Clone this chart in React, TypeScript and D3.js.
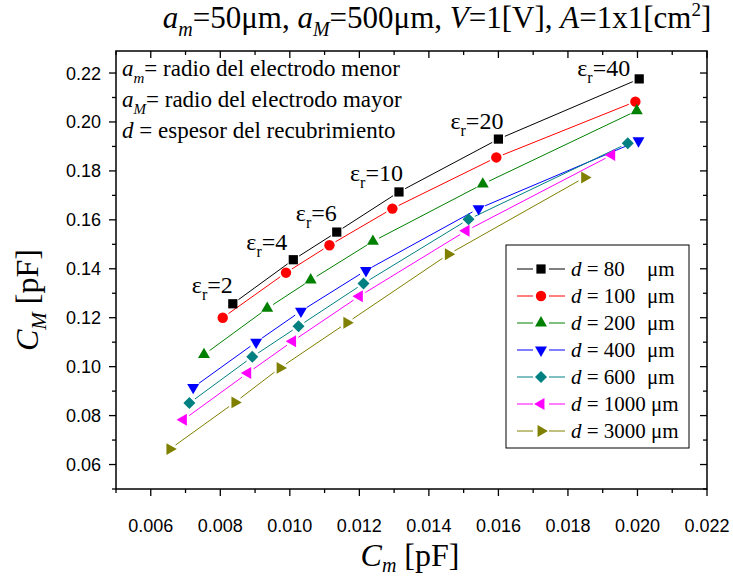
import React from 'react';
import * as d3 from 'd3';

// ---------- data ----------
const epsilons = [2, 4, 6, 10, 20, 40];
const thicknessLabels = ['80', '100', '200', '400', '600', '1000', '3000'];

const cmD80 = [0.00836, 0.0101, 0.01135, 0.01314, 0.016, 0.02005];
const CMD80 = [0.1257, 0.1437, 0.155, 0.1714, 0.193, 0.2176];
const cmD100 = [0.00807, 0.00989, 0.01114, 0.01295, 0.01594, 0.01994];
const CMD100 = [0.12, 0.1384, 0.1496, 0.1646, 0.1855, 0.2083];
const cmD200 = [0.00753, 0.00935, 0.0106, 0.01239, 0.01555, 0.01998];
const CMD200 = [0.1049, 0.1238, 0.1354, 0.1512, 0.1746, 0.2046];
const cmD400 = [0.00722, 0.00903, 0.01032, 0.01219, 0.01543, 0.02003];
const CMD400 = [0.0915, 0.11, 0.1227, 0.1393, 0.1646, 0.1923];
const cmD600 = [0.00711, 0.00892, 0.01025, 0.01212, 0.01514, 0.01972];
const CMD600 = [0.0851, 0.104, 0.1165, 0.134, 0.1602, 0.1913];
const cmD1000 = [0.00694, 0.00879, 0.01008, 0.012, 0.01507, 0.01926];
const CMD1000 = [0.0783, 0.0974, 0.1104, 0.1288, 0.1555, 0.1865];
const cmD3000 = [0.00655, 0.00842, 0.00972, 0.01164, 0.01456, 0.01848];
const CMD3000 = [0.0663, 0.0854, 0.0995, 0.1179, 0.1459, 0.1773];

const xMajorTicks = [0.006, 0.008, 0.01, 0.012, 0.014, 0.016, 0.018, 0.02, 0.022];
const yMajorTicks = [0.06, 0.08, 0.1, 0.12, 0.14, 0.16, 0.18, 0.2, 0.22];

// ---------- styling ----------
const colors = ['#000000', '#FF0000', '#008000', '#0000FF', '#008080', '#FF00FF', '#808000'];
const shapes = ['square', 'circle', 'triUp', 'triDown', 'diamond', 'triLeft', 'triRight'];
const serif = '"Liberation Serif", "Times New Roman", serif';
const sans = '"Liberation Sans", Arial, sans-serif';

const W = 733;
const H = 579;
const L = 116, R = 707, T = 51, B = 489;

const x = d3.scaleLinear().domain([0.005, 0.022]).range([L, R]);
const y = d3.scaleLinear().domain([0.05, 0.229]).range([B, T]);

const seriesX = [cmD80, cmD100, cmD200, cmD400, cmD600, cmD1000, cmD3000];
const seriesY = [CMD80, CMD100, CMD200, CMD400, CMD600, CMD1000, CMD3000];

function markerPath(shape: string): { d: string; rot: number } {
  switch (shape) {
    case 'square':
      return { d: d3.symbol().type(d3.symbolSquare).size(85)() as string, rot: 0 };
    case 'circle':
      return { d: d3.symbol().type(d3.symbolCircle).size(85)() as string, rot: 0 };
    case 'triUp':
      return { d: d3.symbol().type(d3.symbolTriangle).size(62)() as string, rot: 0 };
    case 'triDown':
      return { d: d3.symbol().type(d3.symbolTriangle).size(62)() as string, rot: 180 };
    case 'triLeft':
      return { d: d3.symbol().type(d3.symbolTriangle).size(62)() as string, rot: -90 };
    case 'triRight':
      return { d: d3.symbol().type(d3.symbolTriangle).size(62)() as string, rot: 90 };
    case 'diamond':
      return { d: d3.symbol().type(d3.symbolSquare).size(72)() as string, rot: 45 };
  }
  return { d: '', rot: 0 };
}

function Marker({ shape, cx, cy, color }: { shape: string; cx: number; cy: number; color: string }) {
  const m = markerPath(shape);
  return <path d={m.d} transform={`translate(${cx},${cy}) rotate(${m.rot})`} fill={color} />;
}

function gapSegments(pts: [number, number][], gap: number) {
  const segs: [number, number, number, number][] = [];
  for (let i = 0; i < pts.length - 1; i++) {
    const [x1, y1] = pts[i];
    const [x2, y2] = pts[i + 1];
    const dx = x2 - x1, dy = y2 - y1;
    const len = Math.hypot(dx, dy);
    if (len <= 2 * gap) continue;
    const ux = dx / len, uy = dy / len;
    segs.push([x1 + ux * gap, y1 + uy * gap, x2 - ux * gap, y2 - uy * gap]);
  }
  return segs;
}

// annotation offsets for the epsilon labels (relative to the d=80 points)
const epsOffsets: [number, number][] = [[0, -11], [-6, -10], [0, -11], [4, -11], [5, -10], [-9, -3]];

export default function App() {
  const xMinor = d3.range(0.005, 0.0221, 0.001);
  const yMinor = d3.range(0.05, 0.2291, 0.01);
  const isMajorX = (v: number) => xMajorTicks.some((t) => Math.abs(t - v) < 1e-6);
  const isMajorY = (v: number) => yMajorTicks.some((t) => Math.abs(t - v) < 1e-6);

  const legendX = 506, legendY = 245, legendW = 183, legendH = 203;
  const rowH = 27;

  return (
    <svg width={W} height={H} style={{ position: 'absolute', left: 0, top: 0, background: '#fff' }}>
      <rect x={0} y={0} width={W} height={H} fill="#fff" />

      {/* title */}
      <text x={437} y={28} fontFamily={serif} fontSize={31} textAnchor="middle" fill="#000">
        <tspan fontStyle="italic">a</tspan>
        <tspan fontStyle="italic" fontSize={20} dy={8}>m</tspan>
        <tspan dy={-8}>=50μm, </tspan>
        <tspan fontStyle="italic">a</tspan>
        <tspan fontStyle="italic" fontSize={20} dy={8}>M</tspan>
        <tspan dy={-8}>=500μm, </tspan>
        <tspan fontStyle="italic">V</tspan>
        <tspan>=1[V], </tspan>
        <tspan fontStyle="italic">A</tspan>
        <tspan>=1x1[cm</tspan>
        <tspan fontSize={19} dy={-12}>2</tspan>
        <tspan dy={12}>]</tspan>
      </text>

      {/* lines */}
      {seriesX.map((xs, si) => {
        const pts = xs.map((v, i) => [x(v), y(seriesY[si][i])] as [number, number]);
        return gapSegments(pts, 7).map((s, k) => (
          <line key={`l${si}-${k}`} x1={s[0]} y1={s[1]} x2={s[2]} y2={s[3]} stroke={colors[si]} strokeWidth={1} />
        ));
      })}
      {/* markers */}
      {seriesX.map((xs, si) =>
        xs.map((v, i) => (
          <Marker key={`m${si}-${i}`} shape={shapes[si]} cx={x(v)} cy={y(seriesY[si][i])} color={colors[si]} />
        ))
      )}

      {/* epsilon labels */}
      {epsilons.map((e, i) => (
        <text
          key={`eps${e}`}
          x={x(cmD80[i]) + epsOffsets[i][0]}
          y={y(CMD80[i]) + epsOffsets[i][1]}
          fontFamily={serif}
          fontSize={24}
          textAnchor="end"
          fill="#000"
        >
          <tspan>ε</tspan>
          <tspan fontSize={16} dy={7}>r</tspan>
          <tspan dy={-7}>={e}</tspan>
        </text>
      ))}

      {/* annotation text */}
      <g fontFamily={serif} fontSize={23} fill="#000">
        <text x={122} y={76}>
          <tspan fontStyle="italic">a</tspan>
          <tspan fontStyle="italic" fontSize={15} dy={7}>m</tspan>
          <tspan dy={-7}>= radio del electrodo menor</tspan>
        </text>
        <text x={122} y={107}>
          <tspan fontStyle="italic">a</tspan>
          <tspan fontStyle="italic" fontSize={15} dy={7}>M</tspan>
          <tspan dy={-7}>= radio del electrodo mayor</tspan>
        </text>
        <text x={122} y={138}>
          <tspan fontStyle="italic">d</tspan>
          <tspan> = espesor del recubrimiento</tspan>
        </text>
      </g>

      {/* frame */}
      <rect x={L} y={T} width={R - L} height={B - T} fill="none" stroke="#000" strokeWidth={1.5} />

      {/* x ticks */}
      {xMinor.map((v, i) => {
        const len = isMajorX(v) ? 7 : 4;
        const px = x(v);
        return (
          <g key={`xt${i}`} stroke="#000" strokeWidth={1.3}>
            <line x1={px} x2={px} y1={B} y2={B + len} />
            <line x1={px} x2={px} y1={T} y2={T + len} />
          </g>
        );
      })}
      {xMajorTicks.map((v) => (
        <text key={`xl${v}`} x={x(v)} y={532} fontFamily={sans} fontSize={18} textAnchor="middle" fill="#000">
          {d3.format('.3f')(v)}
        </text>
      ))}

      {/* y ticks */}
      {yMinor.map((v, i) => {
        const len = isMajorY(v) ? 7 : 4;
        const py = y(v);
        return (
          <g key={`yt${i}`} stroke="#000" strokeWidth={1.3}>
            <line x1={L - len} x2={L} y1={py} y2={py} />
            <line x1={R - len} x2={R} y1={py} y2={py} />
          </g>
        );
      })}
      {yMajorTicks.map((v) => (
        <text key={`yl${v}`} x={101} y={y(v) + 6.5} fontFamily={sans} fontSize={18} textAnchor="end" fill="#000">
          {d3.format('.2f')(v)}
        </text>
      ))}

      {/* axis titles */}
      <text x={410} y={566} fontFamily={serif} fontSize={32} textAnchor="middle" fill="#000">
        <tspan fontStyle="italic">C</tspan>
        <tspan fontStyle="italic" fontSize={20} dy={6}>m</tspan>
        <tspan dy={-6}> [pF]</tspan>
      </text>
      <text
        transform={`translate(38,300) rotate(-90)`}
        fontFamily={serif}
        fontSize={32}
        textAnchor="middle"
        fill="#000"
      >
        <tspan fontStyle="italic">C</tspan>
        <tspan fontStyle="italic" fontSize={21} dy={8}>M</tspan>
        <tspan dy={-8}> [pF]</tspan>
      </text>

      {/* legend */}
      <rect x={legendX} y={legendY} width={legendW} height={legendH} fill="#fff" stroke="#000" strokeWidth={1} />
      {thicknessLabels.map((lab, i) => {
        const cy = legendY + 24 + i * rowH;
        const mx = legendX + 35;
        return (
          <g key={`lg${lab}`}>
            <line x1={mx - 24} x2={mx - 8} y1={cy} y2={cy} stroke={colors[i]} strokeWidth={1} />
            <line x1={mx + 8} x2={mx + 24} y1={cy} y2={cy} stroke={colors[i]} strokeWidth={1} />
            <Marker shape={shapes[i]} cx={mx} cy={cy} color={colors[i]} />
            <text x={legendX + 65} y={cy + 7} fontFamily={serif} fontSize={21} fill="#000">
              <tspan fontStyle="italic">d</tspan>
              <tspan> = {lab}</tspan>
            </text>
            <text x={lab.length >= 4 ? legendX + 145 : legendX + 141} y={cy + 7} fontFamily={serif} fontSize={21} fill="#000">
              μm
            </text>
          </g>
        );
      })}
    </svg>
  );
}
